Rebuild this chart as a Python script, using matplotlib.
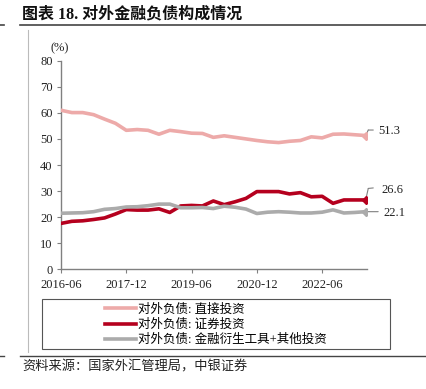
import matplotlib
matplotlib.use("Agg")
import matplotlib.pyplot as plt
from matplotlib.lines import Line2D
from matplotlib.patches import Rectangle
from matplotlib.transforms import offset_copy

# ---------------- data ----------------
quarters = ["2016-06", "2016-09", "2016-12", "2017-03", "2017-06", "2017-09", "2017-12",
            "2018-03", "2018-06", "2018-09", "2018-12", "2019-03", "2019-06", "2019-09",
            "2019-12", "2020-03", "2020-06", "2020-09", "2020-12", "2021-03", "2021-06",
            "2021-09", "2021-12", "2022-03", "2022-06", "2022-09", "2022-12", "2023-03",
            "2023-06"]
tick_labels = ["2016-06", "2017-12", "2019-06", "2020-12", "2022-06"]

direct = [61.0, 60.1, 60.1, 59.3, 57.6, 56.0, 53.3, 53.6, 53.3, 51.8, 53.3, 52.8, 52.2, 52.1,
          50.6, 51.2, 50.6, 50.0, 49.4, 48.9, 48.6, 49.1, 49.4, 50.8, 50.4, 51.8, 51.9, 51.6,
          51.3]
securities = [17.6, 18.4, 18.6, 19.1, 19.7, 21.2, 22.9, 22.7, 22.7, 23.2, 21.8, 24.3, 24.5,
              24.3, 26.2, 24.8, 25.9, 27.2, 29.8, 29.8, 29.8, 28.9, 29.4, 27.8, 28.0, 25.3,
              26.6, 26.6, 26.6]
other = [21.5, 21.6, 21.7, 22.1, 23.0, 23.3, 23.9, 24.0, 24.4, 25.0, 25.0, 23.6, 23.6, 23.7,
         23.3, 24.2, 23.8, 23.1, 21.4, 21.9, 22.1, 21.9, 21.6, 21.6, 21.9, 22.8, 21.6, 21.8,
         22.1]
series_names = ["对外负债: 直接投资", "对外负债: 证券投资", "对外负债: 金融衍生工具+其他投资"]
colors = ["#EDAAA9", "#B5001E", "#ABABAB"]

title_text = "图表 18. 对外金融负债构成情况"
source_text = "资料来源：国家外汇管理局，中银证券"

# ---------------- figure ----------------
plt.rcParams['font.family'] = ['Liberation Serif', 'Noto Sans CJK SC', 'DejaVu Sans']

W, H = 427, 389
fig = plt.figure(figsize=(W / 100, H / 100), dpi=100)


def fx(px):
    return px / W


def fy(py):
    return 1 - py / H


ax = fig.add_axes([fx(61), fy(269.3), fx(367.3) - fx(61), fy(60.7) - fy(269.3)])

x = list(range(len(quarters)))
all_series = [direct, securities, other]
for vals, c in zip(all_series, colors):
    ax.plot(x, vals, color=c, lw=2.6, solid_joinstyle='round', zorder=3)
    ax.plot([x[-1]], [vals[-1]], marker='D', ms=4.5, color=c, zorder=4)

ax.set_ylim(0, 80)
ax.set_yticks(range(0, 81, 10))
ax.set_xlim(0, len(quarters) - 1 + 0.15)
ax.set_xticks([quarters.index(t) for t in tick_labels])
ax.set_xticklabels(tick_labels)

for s in ['top', 'right']:
    ax.spines[s].set_visible(False)
for s in ['left', 'bottom']:
    ax.spines[s].set_color('#808080')
    ax.spines[s].set_linewidth(1.0)
ax.tick_params(axis='both', direction='out', length=3, width=0.8, color='#808080',
               labelsize=9, labelcolor='#222222')
ax.tick_params(axis='x', pad=4)
ax.tick_params(axis='y', pad=3)

# (%) label
fig.text(fx(60), fy(48), "(%)", fontsize=9, ha='center', va='center', color='#222222')

# end labels with leader lines (offsets in pixels)
leaders = [
    ([(0, 0), (2.6, 5.5), (7.6, 5.5)], (13, 4.5)),
    ([(0, 0), (2.6, 11.5), (7.6, 12)], (16, 10)),
    ([(0, 0), (12.5, 0)], (18, -1.5)),
]
for vals, (pts, (tx, ty)) in zip(all_series, leaders):
    xi, yi = x[-1], vals[-1]
    for i in range(len(pts) - 1):
        (dx0, dy0), (dx1, dy1) = pts[i], pts[i + 1]
        ax.annotate("", xy=(xi, yi),
                    xycoords=offset_copy(ax.transData, fig=fig, x=dx1, y=dy1, units='dots'),
                    xytext=(xi, yi),
                    textcoords=offset_copy(ax.transData, fig=fig, x=dx0, y=dy0, units='dots'),
                    arrowprops=dict(arrowstyle='-', color='#808080', lw=0.8,
                                    shrinkA=0, shrinkB=0),
                    annotation_clip=False)
    ax.text(xi, yi, f"{yi:.1f}",
            transform=offset_copy(ax.transData, fig=fig, x=tx, y=ty, units='dots'),
            ha='left', va='center', fontsize=9, color='#222222', clip_on=False)

# legend
handles = [Line2D([0], [0], color=c, lw=2.6) for c in colors]
fig.legend(handles, series_names, loc='upper left', bbox_to_anchor=(fx(103), fy(301)),
           frameon=False, fontsize=9, handlelength=2.45, handletextpad=0.15,
           labelspacing=0.26, borderpad=0.2, borderaxespad=0)
fig.add_artist(Rectangle((fx(41.7), fy(349.3)), fx(390) - fx(41.7), (349.3 - 299.3) / H,
                         transform=fig.transFigure, fill=False, edgecolor='#555555', lw=0.8))

# title, rules, source
fig.text(fx(22), fy(14), title_text, fontsize=11.5, fontweight='bold', ha='left', va='center',
         color='#111111')
fig.add_artist(Line2D([fx(20), fx(427)], [fy(25), fy(25)], transform=fig.transFigure,
                      color='#444444', lw=1.2))
fig.add_artist(Line2D([fx(0), fx(4)], [fy(25), fy(25)], transform=fig.transFigure,
                      color='#444444', lw=1.2))
fig.add_artist(Line2D([fx(28.5), fx(28.5)], [fy(30), fy(352)], transform=fig.transFigure,
                      color='#BBBBBB', lw=0.8))
fig.add_artist(Line2D([fx(20), fx(427)], [fy(356), fy(356)], transform=fig.transFigure,
                      color='#444444', lw=1.0))
fig.add_artist(Line2D([fx(0), fx(4)], [fy(356), fy(356)], transform=fig.transFigure,
                      color='#444444', lw=1.0))
fig.text(fx(22), fy(367), source_text, fontsize=9.5, style='italic', ha='left', va='center',
         color='#222222')

fig.savefig("out.png", dpi=100)
